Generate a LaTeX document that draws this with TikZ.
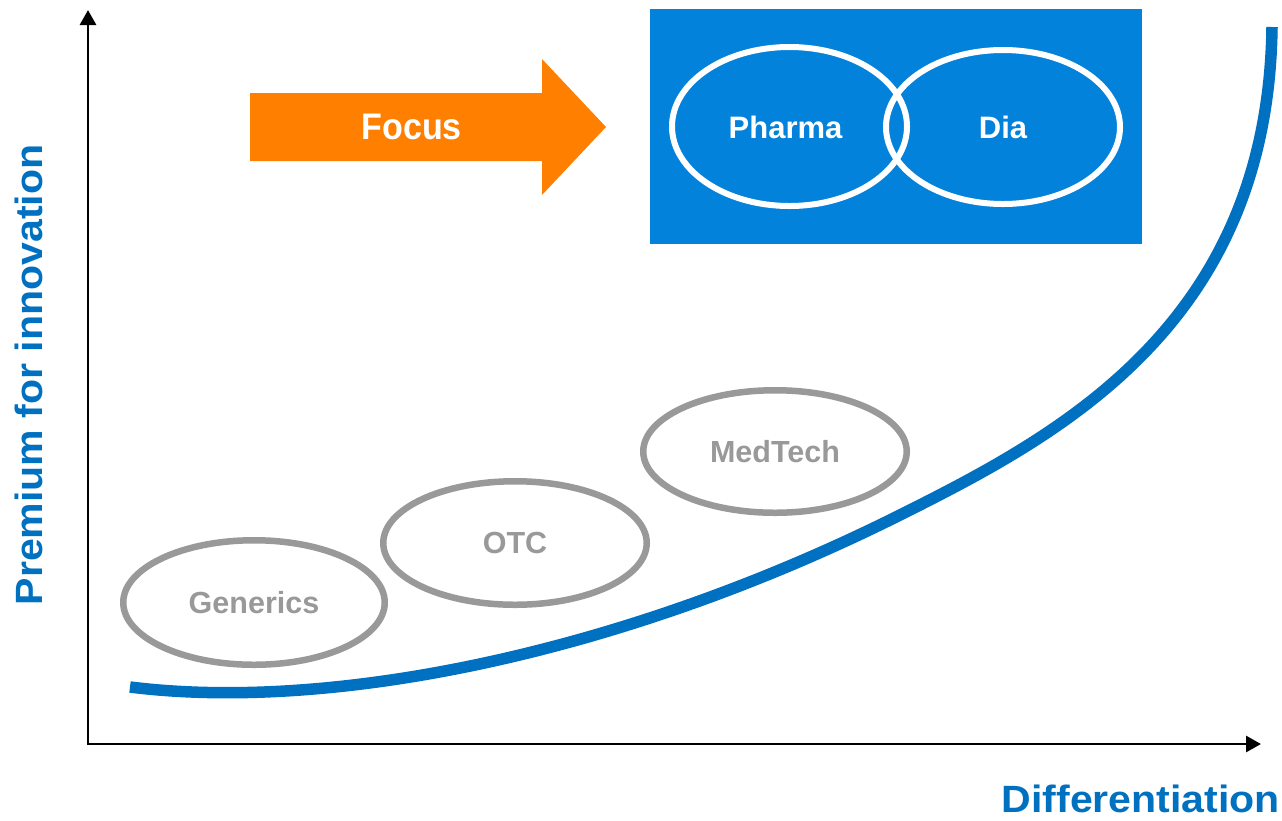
\documentclass[tikz,border=0pt]{standalone}
\usepackage{fontspec}
\setmainfont{Liberation Sans}
\newfontfamily\condfont{Liberation Sans}[FakeStretch=0.92]
\newfontfamily\widefont{Liberation Sans}[FakeStretch=1.08]
\usetikzlibrary{arrows.meta,shapes.geometric}
\definecolor{axisblue}{RGB}{0,112,192}
\definecolor{boxblue}{RGB}{2,130,218}
\definecolor{focusorange}{RGB}{255,128,0}
\definecolor{greyring}{RGB}{153,153,153}
\begin{document}
\begin{tikzpicture}[x=1pt,y=-1pt,
  ring/.style={ellipse, draw=greyring, line width=6.5pt, inner sep=0pt, text=greyring, font=\bfseries\fontsize{30.5}{36}\selectfont},
  venn/.style={ellipse, draw=white, line width=6pt, inner sep=0pt},
  venntext/.style={text=white, inner sep=0pt, font=\bfseries\fontsize{31}{37}\selectfont},
  axislabel/.style={text=axisblue, font=\widefont\bfseries\fontsize{38}{44}\selectfont, inner sep=0pt},
  axisline/.style={line width=2.8pt, black, {Triangle[length=15pt,width=16pt]}-{Triangle[length=15pt,width=16pt]}}
]
\useasboundingbox (0,0) rectangle (1282,820);
\fill[white] (0,0) rectangle (1282,820);

% axes
\coordinate (ytip) at (88,10);
\coordinate (orig) at (88,744);
\coordinate (xtip) at (1261,744);
\draw[axisline] (ytip) -- (orig) -- (xtip);

% blue box with Venn
\fill[boxblue] (650,9) rectangle (1142,244);
\node[venn, minimum width=235pt, minimum height=159pt] (pharma) at (789.5,126.5) {};
\node[venn, minimum width=234pt, minimum height=154pt] (dia) at (1003,127) {};
\node[venntext] (pharmatext) at (785.5,127) {Pharma};
\node[venntext] (diatext) at (1003,127) {Dia};

% orange arrow
\fill[focusorange] (250,93) -- (542,93) -- (542,59) -- (606,127) -- (542,195) -- (542,161) -- (250,161) -- cycle;
\node[text=white, font=\condfont\bfseries\fontsize{37}{44}\selectfont, inner sep=0pt] (focus) at (411.7,126.5) {Focus};

% grey rings
\node[ring, minimum width=261.5pt, minimum height=124.5pt] (generics) at (254,602.5) {Generics};
\node[ring, minimum width=263.5pt, minimum height=123.5pt] (otc) at (515,543) {OTC};
\node[ring, minimum width=263.5pt, minimum height=122.5pt] (medtech) at (775,451.5) {MedTech};

% curve
\coordinate (cstart) at (130,687);
\coordinate (cmid) at (900,515);
\coordinate (cend) at (1272,27);
\draw[axisblue, line width=11.5pt] (cstart) .. controls (330,712) and (620,655) .. (cmid)
  .. controls (1060,435) and (1268,325) .. (cend);

% axis labels
\node[axislabel, rotate=90, anchor=base] (ylab) at (42.5,375) {Premium for innovation};
\node[axislabel, anchor=base east] (xlab) at (1280,812) {Differentiation};
\end{tikzpicture}
\end{document}
